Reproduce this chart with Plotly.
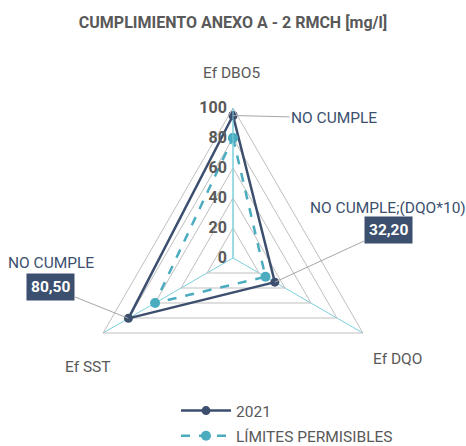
import math
import plotly.graph_objects as go

# Parameters and values
categories = ["Ef DBO5", "Ef DQO", "Ef SST"]
values_2021 = [95, 32.2, 80.5]
values_limits = [80, 25, 60]
series_names = ["2021", "LÍMITES PERMISIBLES"]
radial_ticks = [0, 20, 40, 60, 80, 100]
point_notes = ["NO CUMPLE", "NO CUMPLE;(DQO*10)", "NO CUMPLE"]
value_labels = ["", "32,20", "80,50"]

NAVY = "#3c4f6e"
TEAL = "#4bacc0"
SPOKE = "#7ccfdc"
GRID = "#bfbfbf"
TXT = "#595959"
FONT = "Roboto"

W, H = 466, 446
CX, CY, R = 233, 258, 150  # polar centre and outer radius, px

def closed(v):
    return list(v) + [v[0]]

fig = go.Figure()
fig.add_trace(go.Scatterpolar(
    r=closed(values_2021), theta=closed(categories), name=series_names[0],
    mode="lines+markers", line=dict(color=NAVY, width=2.5),
    marker=dict(color=NAVY, size=9), legendgroup="a",
))
fig.add_trace(go.Scatterpolar(
    r=closed(values_limits), theta=closed(categories), name=series_names[1],
    mode="lines+markers", line=dict(color=TEAL, width=2.5, dash="dash"),
    marker=dict(color=TEAL, size=10), legendgroup="b",
))

fig.update_layout(
    width=W, height=H,
    margin=dict(l=0, r=0, t=0, b=0, pad=0, autoexpand=False),
    paper_bgcolor="white", plot_bgcolor="white",
    font=dict(family=FONT, color=TXT, size=13),
    title=dict(text="<b>CUMPLIMIENTO ANEXO A - 2 RMCH [mg/l]</b>",
               x=0.5, xanchor="center", y=1 - 22 / H, yanchor="middle",
               yref="container", font=dict(family=FONT, size=16, color=TXT)),
    polar=dict(
        domain=dict(x=[(CX - R) / W, (CX + R) / W],
                    y=[1 - (CY + R) / H, 1 - (CY - R) / H]),
        gridshape="linear",
        bgcolor="white",
        radialaxis=dict(range=[0, 100], tickvals=radial_ticks, angle=90,
                        tickangle=90,
                        side="counterclockwise", showline=True, linecolor=SPOKE,
                        linewidth=1, gridcolor=GRID, gridwidth=1, ticks="",
                        tickfont=dict(family=FONT, size=16, color=TXT, weight="bold")),
        angularaxis=dict(direction="clockwise", rotation=90, showticklabels=False,
                         ticks="", showline=True, linecolor=GRID, linewidth=1,
                         gridcolor=SPOKE, gridwidth=1),
    ),
    legend=dict(x=176 / W, y=1 - 394 / H, xanchor="left", yanchor="top",
                orientation="v", tracegroupgap=2, itemwidth=50,
                font=dict(family=FONT, size=15.5, color=TXT)),
    showlegend=True,
)

# Category labels around the chart
cat_pos = [(231, 73), (397, 359), (88, 367)]
for name, (px, py) in zip(categories, cat_pos):
    fig.add_annotation(text=name, x=px / W, y=1 - py / H, xref="paper", yref="paper",
                       xanchor="center", yanchor="middle", showarrow=False,
                       font=dict(family=FONT, size=15.5, color=TXT))

def to_px(value, idx):
    ang = math.radians(idx * 360 / len(categories))
    rr = value / 100 * R
    return CX + rr * math.sin(ang), CY - rr * math.cos(ang)

# Compliance notes with leader lines to the 2021 points
note_pos = [(334, 118), (388, 208), (51, 263)]
box_pos = [None, (388, 230), (50, 287)]
for i in range(len(categories)):
    mx, my = to_px(values_2021[i], i)
    nx, ny = note_pos[i]
    if value_labels[i]:
        fig.add_annotation(text=point_notes[i], x=nx / W, y=1 - ny / H,
                           xref="paper", yref="paper", xanchor="center",
                           yanchor="middle", showarrow=False,
                           font=dict(family=FONT, size=15.5, color=NAVY))
        bx, by = box_pos[i]
        fig.add_annotation(text="<b>" + value_labels[i] + "</b>",
                           x=mx / W, y=1 - my / H, xref="paper", yref="paper",
                           ax=bx - mx, ay=by - my, showarrow=True, arrowhead=0,
                           arrowwidth=1, arrowcolor="#a6a6a6",
                           bgcolor=NAVY, borderpad=4,
                           font=dict(family=FONT, size=15.5, color="white"))
    else:
        fig.add_annotation(text=point_notes[i], x=mx / W, y=1 - my / H,
                           xref="paper", yref="paper", ax=nx - mx, ay=ny - my,
                           showarrow=True, arrowhead=0, arrowwidth=1,
                           arrowcolor="#a6a6a6",
                           font=dict(family=FONT, size=15.5, color=NAVY))

fig.write_html("out.html")
